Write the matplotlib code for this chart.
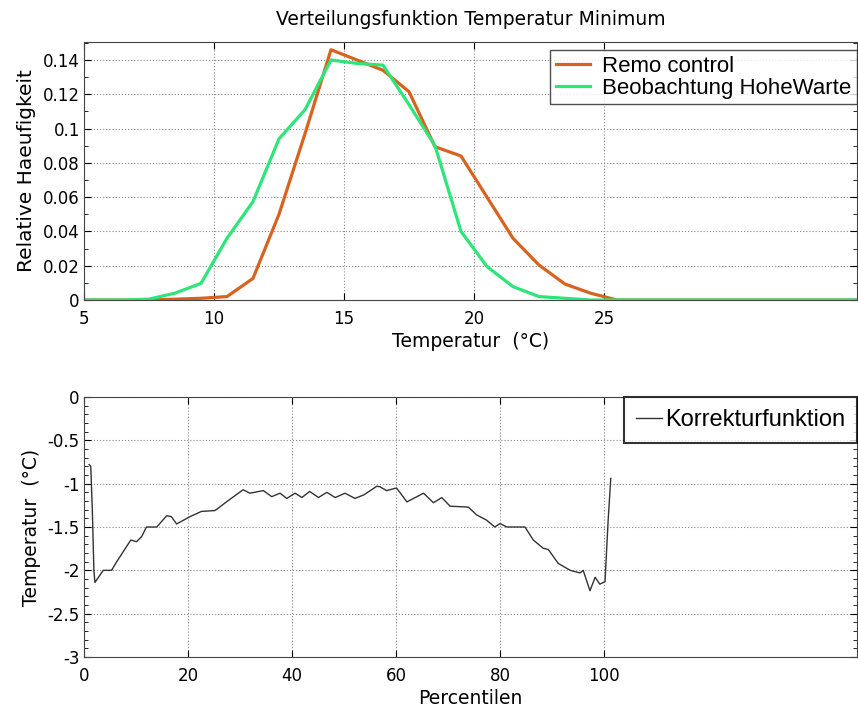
import matplotlib
matplotlib.use("Agg")
import matplotlib.pyplot as plt
from matplotlib.ticker import MultipleLocator

plt.rcParams['font.family'] = ['Liberation Sans', 'DejaVu Sans']

# Verteilungsfunktion (oben)
temp = [4.5, 5.5, 6.5, 7.5, 8.5, 9.5, 10.5, 11.5, 12.5, 13.5, 14.5, 15.5, 16.5, 17.5,
        18.5, 19.5, 20.5, 21.5, 22.5, 23.5, 24.5, 25.5, 26.5, 27.5, 28.5, 29.5, 30.5,
        31.5, 32.5, 33.5, 34.5, 35.5]
remo = [0, 0, 0, 0, 0.0005, 0.001, 0.002, 0.0126, 0.050, 0.097, 0.146, 0.140, 0.134,
        0.1215, 0.0894, 0.084, 0.060, 0.036, 0.0204, 0.0093, 0.0039, 0, 0, 0, 0, 0, 0,
        0, 0, 0, 0, 0]
beob = [0, 0, 0, 0.0005, 0.004, 0.0097, 0.036, 0.0574, 0.094, 0.111, 0.140, 0.138,
        0.137, 0.114, 0.090, 0.040, 0.0195, 0.0078, 0.002, 0.001, 0, 0, 0, 0, 0, 0, 0,
        0, 0, 0, 0, 0]

# Korrekturfunktion (unten)
pct = [1.0, 1.3, 1.6, 1.9, 2.1, 3.7, 5.3, 6.3, 9.0, 10.1, 11.1, 12.0, 14.0, 15.9, 16.8,
       17.8, 20.4, 22.6, 25.2, 27.4, 30.6, 31.9, 34.5, 36.1, 37.7, 39.0, 40.6, 41.9,
       43.4, 45.1, 46.7, 48.3, 50.2, 52.1, 53.8, 56.3, 56.9, 58.2, 60.1, 62.1, 65.3,
       67.2, 68.8, 70.4, 73.9, 75.5, 77.4, 79.0, 80.0, 81.3, 84.8, 86.4, 88.3, 89.3,
       91.2, 93.5, 95.4, 96.0, 97.3, 98.3, 99.2, 100.2, 100.5, 100.8, 101.3]
korr = [-0.78, -0.80, -1.30, -2.00, -2.14, -2.00, -2.00, -1.90, -1.65, -1.67, -1.61,
        -1.50, -1.50, -1.37, -1.38, -1.465, -1.38, -1.32, -1.31, -1.21, -1.07, -1.11,
        -1.08, -1.15, -1.11, -1.17, -1.11, -1.16, -1.09, -1.16, -1.10, -1.16, -1.11,
        -1.17, -1.13, -1.03, -1.035, -1.08, -1.05, -1.21, -1.11, -1.22, -1.16, -1.26,
        -1.27, -1.36, -1.42, -1.50, -1.46, -1.50, -1.50, -1.65, -1.745, -1.76, -1.92,
        -2.00, -2.03, -2.00, -2.235, -2.08, -2.16, -2.13, -1.77, -1.42, -0.94]

top_xticks = [5, 10, 15, 20, 25]
top_yticks = [0, 0.02, 0.04, 0.06, 0.08, 0.1, 0.12, 0.14]
top_ylabels = ['0', '0.02', '0.04', '0.06', '0.08', '0.1', '0.12', '0.14']
bot_xticks = [0, 20, 40, 60, 80, 100]
bot_yticks = [0, -0.5, -1, -1.5, -2, -2.5, -3]
bot_ylabels = ['0', '-0.5', '-1', '-1.5', '-2', '-2.5', '-3']

fig = plt.figure(figsize=(8.58, 7.11), dpi=100)
W, H = 858, 711
tick_font = dict(family='DejaVu Sans', size=12)
lab_font = dict(family='DejaVu Sans', size=13.5)


def style(ax):
    ax.grid(True, color='#888888', linestyle=(0, (1, 1.8)), linewidth=0.8)
    ax.tick_params(which='both', direction='in', top=True, right=True)
    ax.tick_params(which='major', length=5)
    ax.tick_params(which='minor', length=3, top=False, bottom=False)
    ax.tick_params(axis='x', pad=7)
    ax.tick_params(axis='y', pad=3)
    for lab in ax.get_xticklabels() + ax.get_yticklabels():
        lab.set_fontfamily(tick_font['family'])
        lab.set_fontsize(tick_font['size'])
    for s in ax.spines.values():
        s.set_color('#444444')


ax1 = fig.add_axes([84 / W, 1 - 300 / H, 773 / W, 258 / H])
ax1.plot(temp, remo, color='#d9621f', lw=2.3, label='Remo control')
ax1.plot(temp, beob, color='#2ee57a', lw=2.3, label='Beobachtung HoheWarte')
ax1.set_xlim(5, 5 + 773 / 26)
ax1.set_ylim(0, 0.1505)
ax1.set_xticks(top_xticks)
ax1.set_yticks(top_yticks)
ax1.set_yticklabels(top_ylabels)
ax1.yaxis.set_minor_locator(MultipleLocator(0.01))
style(ax1)
ax1.set_title('Verteilungsfunktion Temperatur Minimum', family='DejaVu Sans',
              fontsize=13.5, pad=12)
ax1.set_xlabel('Temperatur  (°C)', labelpad=3, **lab_font)
ax1.set_ylabel('Relative Haeufigkeit', labelpad=5, family='DejaVu Sans', size=14.5)
leg1 = ax1.legend(loc='upper right', bbox_to_anchor=(1, 1 - 8 / 258), fontsize=16,
                  frameon=True, fancybox=False, borderaxespad=0, handlelength=1.55,
                  handletextpad=0.55, borderpad=0.25, labelspacing=0.05)
leg1.get_frame().set_edgecolor('#222222')
leg1.get_frame().set_linewidth(1.0)

ax2 = fig.add_axes([84 / W, 1 - 657 / H, 773 / W, 260 / H])
ax2.plot(pct, korr, color='#333333', lw=1.0, label='Korrekturfunktion')
ax2.set_xlim(0, 773 / 5.2)
ax2.set_ylim(-3, 0)
ax2.set_xticks(bot_xticks)
ax2.set_yticks(bot_yticks)
ax2.set_yticklabels(bot_ylabels)
ax2.yaxis.set_minor_locator(MultipleLocator(0.1))
style(ax2)
ax2.set_xlabel('Percentilen', labelpad=3, **lab_font)
ax2.set_ylabel('Temperatur  (°C)', labelpad=5, **lab_font)
leg2 = ax2.legend(loc='upper right', bbox_to_anchor=(1, 1), fontsize=17, frameon=True,
                  fancybox=False, borderaxespad=0, handlelength=1.1,
                  handletextpad=0.15, borderpad=0.5)
leg2.get_frame().set_edgecolor('#000000')
leg2.get_frame().set_linewidth(1.5)

fig.savefig('out.png', dpi=100)
